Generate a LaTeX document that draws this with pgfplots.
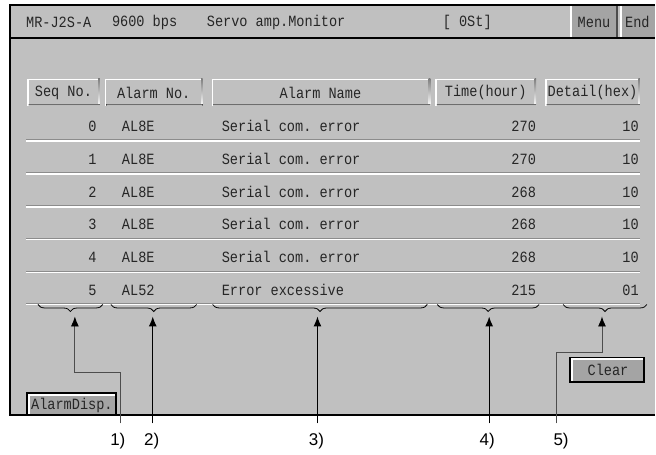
\documentclass[border=0pt]{standalone}
\usepackage{pgfplots}
\pgfplotsset{compat=1.18}
\usepackage{pgfplotstable}
\usepackage{fontspec}
\usetikzlibrary{decorations.pathreplacing,arrows.meta}
\newfontfamily\hmi{Liberation Mono}
\newfontfamily\lab{Liberation Sans}
\definecolor{bg}{HTML}{C0C0C0}
\definecolor{btn}{HTML}{A4A4A4}
\definecolor{shade}{HTML}{808080}
\definecolor{ink}{HTML}{262626}
\newcommand\hmifont{\hmi\fontsize{13.6}{14}\selectfont\frenchspacing}
\newcommand\T[1]{\scalebox{1}[1.15]{#1}}

\pgfplotstableread[col sep=comma]{
y,seq,alarm,name,time,detail
130,0,AL8E,Serial com. error,270,10
163,1,AL8E,Serial com. error,270,10
196,2,AL8E,Serial com. error,268,10
228,3,AL8E,Serial com. error,268,10
261,4,AL8E,Serial com. error,268,10
294,5,AL52,Error excessive,215,01
}\alarms

\newcommand\raised[4]{% x1,y1(top),x2,y2(bottom)
  \fill[bg] (axis cs:#1,#2) rectangle (axis cs:#3,#4);
  \fill[white] (axis cs:#1,#2) rectangle (axis cs:#3,#2+1.6);
  \fill[white] (axis cs:#1,#2) rectangle (axis cs:#1+1.6,#4);
  \fill[shade] (axis cs:#3-1.6,#2) rectangle (axis cs:#3,#4);
  \fill[shade] (axis cs:#1+1.6,#4-1.6) rectangle (axis cs:#3,#4);
}
\newcommand\button[4]{%
  \fill[btn] (axis cs:#1,#2) rectangle (axis cs:#3,#4);
  \draw[black, line width=1.8pt] (axis cs:#1,#2) rectangle (axis cs:#3,#4);
  \fill[white] (axis cs:#1+1,#2+1) rectangle (axis cs:#3-1,#2+2.8);
  \fill[white] (axis cs:#1+1,#2+1) rectangle (axis cs:#1+2.8,#4-1);
}

\begin{document}
\begin{tikzpicture}
\begin{axis}[
  width=656pt, height=455pt, scale only axis,
  xmin=0, xmax=656, ymin=0, ymax=455, y dir=reverse,
  hide axis, clip=false,
]
% canvas
\fill[white] (axis cs:0,0) rectangle (axis cs:656,455);
\fill[bg] (axis cs:10,5) rectangle (axis cs:656,416);
\draw[black, line width=2.2pt] (axis cs:656,5) -- (axis cs:10,5) -- (axis cs:10,416) -- (axis cs:656,416);
\draw[black, line width=1.3pt] (axis cs:10,38) -- (axis cs:656,38);

% title bar
\node[anchor=west, inner sep=0pt, text=ink, font=\hmifont] at (axis cs:26,22) {\T{MR-J2S-A}};
\node[anchor=west, inner sep=0pt, text=ink, font=\hmifont] at (axis cs:112,22) {\T{9600 bps}};
\node[anchor=west, inner sep=0pt, text=ink, font=\hmifont] at (axis cs:207,22) {\T{Servo amp.Monitor}};
\node[inner sep=0pt, text=ink, font=\hmifont] at (axis cs:468,22) {\T{[ 0St]}};
\fill[btn] (axis cs:571,6) rectangle (axis cs:618,37);
\fill[white] (axis cs:571,6) rectangle (axis cs:573,37);
\fill[black!70] (axis cs:617,6) rectangle (axis cs:619,37);
\fill[btn] (axis cs:621,6) rectangle (axis cs:656,37);
\fill[white] (axis cs:621,6) rectangle (axis cs:623,37);
\node[inner sep=0pt, text=ink, font=\hmifont] at (axis cs:595,22) {\T{Menu}};
\node[anchor=west, inner sep=0pt, text=ink, font=\hmifont] at (axis cs:626,22) {\T{End}};

% header boxes
\raised{27}{79}{100}{106}
\raised{105}{79}{203}{106}
\raised{212}{79}{431}{106}
\raised{436}{79}{537}{106}
\raised{546}{79}{641}{106}
\node[inner sep=0pt, text=ink, font=\hmifont] at (axis cs:63.5,93) {\T{Seq No.}};
\node[inner sep=0pt, text=ink, font=\hmifont] at (axis cs:154,93) {\T{Alarm No.}};
\node[inner sep=0pt, text=ink, font=\hmifont] at (axis cs:321,93) {\T{Alarm Name}};
\node[inner sep=0pt, text=ink, font=\hmifont] at (axis cs:486.5,93) {\T{Time(hour)}};
\node[inner sep=0pt, text=ink, font=\hmifont] at (axis cs:593.5,93) {\T{Detail(hex)}};

% row separators
\pgfplotsinvokeforeach{140,173,206,239,272,304}{
  \fill[black!45] (axis cs:26,#1-0.5) rectangle (axis cs:641,#1+0.6);
  \fill[white] (axis cs:26,#1+0.6) rectangle (axis cs:641,#1+1.9);
}

% table contents
\pgfplotsset{rowtext/.style={draw=none, mark=none, point meta=explicit symbolic,
   nodes near coords={\T{\pgfplotspointmeta}},
   nodes near coords style={inner sep=0pt, text=ink, font=\hmifont}}}
\addplot[rowtext, nodes near coords align={anchor=mid east}] table[x expr=97, y=y, meta=seq] {\alarms};
\addplot[rowtext, nodes near coords align={anchor=mid west}] table[x expr=122, y=y, meta=alarm] {\alarms};
\addplot[rowtext, nodes near coords align={anchor=mid west}] table[x expr=222, y=y, meta=name] {\alarms};
\addplot[rowtext, nodes near coords align={anchor=mid east}] table[x expr=537, y=y, meta=time] {\alarms};
\addplot[rowtext, nodes near coords align={anchor=mid east}] table[x expr=640, y=y, meta=detail] {\alarms};

% braces
\draw[black, line width=0.8pt, decorate, decoration={brace, mirror, amplitude=7pt}] (axis cs:38,305) -- (axis cs:103,305);
\draw[black, line width=0.8pt, decorate, decoration={brace, mirror, amplitude=7pt}] (axis cs:111,305) -- (axis cs:197,305);
\draw[black, line width=0.8pt, decorate, decoration={brace, mirror, amplitude=7pt}] (axis cs:213,305) -- (axis cs:428,305);
\draw[black, line width=0.8pt, decorate, decoration={brace, mirror, amplitude=7pt}] (axis cs:438,305) -- (axis cs:540,305);
\draw[black, line width=0.8pt, decorate, decoration={brace, mirror, amplitude=7pt}] (axis cs:564,305) -- (axis cs:648,305);

% buttons
\button{571}{358}{645}{383}
\node[inner sep=0pt, text=ink, font=\hmifont] at (axis cs:609,371) {\T{Clear}};
\button{27}{394}{116}{416}
\node[inner sep=0pt, text=ink, font=\hmifont] at (axis cs:72,406) {\T{AlarmDisp.}};

% arrows
\addplot[shade!60!black, line width=0.9pt, -{Latex[length=10pt, width=8pt, color=black]}] coordinates {(121,424) (121,373) (75,373) (75,317)};
\addplot[black, line width=1.2pt, -{Latex[length=10pt, width=8pt]}] coordinates {(153,424) (153,317)};
\addplot[black, line width=1.2pt, -{Latex[length=10pt, width=8pt]}] coordinates {(318,424) (318,317)};
\addplot[black, line width=1.2pt, -{Latex[length=10pt, width=8pt]}] coordinates {(490,424) (490,317)};
\addplot[shade!60!black, line width=0.9pt, -{Latex[length=10pt, width=8pt, color=black]}] coordinates {(557,424) (557,353) (603,353) (603,317)};

% labels
\node[inner sep=0pt, font=\lab\fontsize{17}{17}\selectfont] at (axis cs:118,442) {1)};
\node[inner sep=0pt, font=\lab\fontsize{17}{17}\selectfont] at (axis cs:152,442) {2)};
\node[inner sep=0pt, font=\lab\fontsize{17}{17}\selectfont] at (axis cs:317,442) {3)};
\node[inner sep=0pt, font=\lab\fontsize{17}{17}\selectfont] at (axis cs:488,442) {4)};
\node[inner sep=0pt, font=\lab\fontsize{17}{17}\selectfont] at (axis cs:562,442) {5)};
\end{axis}
\end{tikzpicture}
\end{document}
